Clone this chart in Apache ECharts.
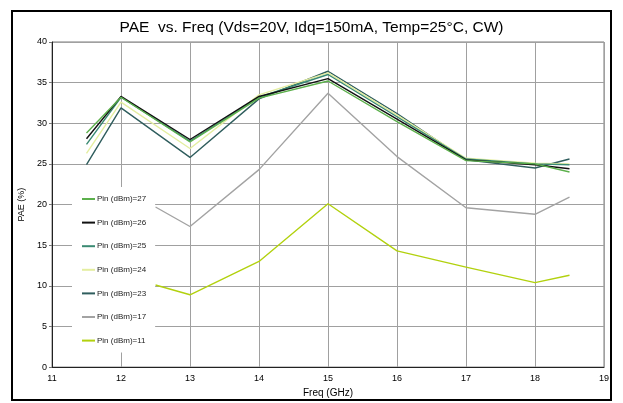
<!DOCTYPE html>
<html><head><meta charset="utf-8">
<script src="https://cdn.jsdelivr.net/npm/echarts@6/dist/echarts.min.js"></script>
<style>html,body{margin:0;padding:0;background:#fff}#c{width:623px;height:403px}</style>
</head><body><div id="c"></div>
<script>
const freqs = [11.5, 12, 13, 14, 15, 16, 17, 18, 18.5];
const pin27 = [28.8, 33.2, 27.7, 33.1, 35.2, 30.2, 25.4, 25.0, 24.0];
const pin26 = [28.1, 33.3, 28.0, 33.3, 35.5, 30.5, 25.5, 24.9, 24.4];
const pin25 = [27.4, 33.2, 27.8, 33.2, 36.0, 30.8, 25.6, 25.0, 24.9];
const pin24 = [26.3, 32.6, 26.9, 33.5, 36.2, 31.0, 25.7, 25.1, 25.0];
const pin23 = [24.9, 31.9, 25.8, 33.0, 36.4, 31.2, 25.5, 24.5, 25.6];
const freqsLow = [12.5, 13, 14, 15, 16, 17, 18, 18.5];
const pin17 = [19.7, 17.3, 24.3, 33.7, 25.9, 19.6, 18.8, 20.9];
const pin11 = [10.1, 8.9, 13.0, 20.1, 14.3, 12.3, 10.4, 11.3];
const names = ['Pin (dBm)=27','Pin (dBm)=26','Pin (dBm)=25','Pin (dBm)=24','Pin (dBm)=23','Pin (dBm)=17','Pin (dBm)=11'];
const colors = ['#5cb04c','#111111','#3a8a72','#e4eea0','#2f5d5d','#a3a3a3','#b2d10e'];

const zip = (xs, ys) => xs.map((x, i) => [x, ys[i]]);
const seriesData = [zip(freqs,pin27), zip(freqs,pin26), zip(freqs,pin25), zip(freqs,pin24), zip(freqs,pin23), zip(freqsLow,pin17), zip(freqsLow,pin11)];
const drawOrder = [5, 6, 4, 3, 2, 1, 0];

const chart = echarts.init(document.getElementById('c'), null, {renderer:'canvas'});
const font = 'Liberation Sans, Arial, sans-serif';
chart.setOption({
  animation: false,
  color: colors,
  title: {text: 'PAE  vs. Freq (Vds=20V, Idq=150mA, Temp=25°C, CW)', left: 'center', top: 15,
    textStyle: {fontFamily: font, fontSize: 15.5, fontWeight: 'normal', color: '#000'}},
  graphic: [{type: 'rect', shape: {x: 12, y: 11, width: 599, height: 389}, style: {fill: 'none', stroke: '#000', lineWidth: 2}, z: 100}],
  grid: {left: 52, top: 42, right: 19, bottom: 35, show: true, borderColor: '#7a7a7a', borderWidth: 1},
  legend: {orient: 'vertical', left: 72, top: 187, backgroundColor: '#fff', padding: [7, 9, 7, 10],
    itemGap: 13.6, itemWidth: 13, itemHeight: 2, icon: 'rect', itemStyle: {borderWidth: 0},
    textStyle: {fontFamily: font, fontSize: 8, color: '#222', lineHeight: 10, padding: [0,0,0,-3]},
    data: names},
  xAxis: {type: 'value', min: 11, max: 19, interval: 1, name: 'Freq (GHz)', nameLocation: 'middle', nameGap: 20,
    nameTextStyle: {fontFamily: font, fontSize: 10, color: '#000'},
    axisLine: {show: true, lineStyle: {color: '#222', width: 1}}, axisTick: {show: false},
    axisLabel: {fontFamily: font, fontSize: 9, color: '#000', margin: 7},
    splitLine: {show: true, lineStyle: {color: '#a0a0a0', width: 1}}},
  yAxis: {type: 'value', min: 0, max: 40, interval: 5, name: 'PAE (%)', nameLocation: 'middle', nameGap: 25,
    nameTextStyle: {fontFamily: font, fontSize: 9, color: '#000'},
    axisLine: {show: true, lineStyle: {color: '#222', width: 1}}, axisTick: {show: true, length: 3, lineStyle: {color: '#777'}},
    axisLabel: {fontFamily: font, fontSize: 9, color: '#000', margin: 5},
    splitLine: {show: true, lineStyle: {color: '#a0a0a0', width: 1}}},
  series: drawOrder.map(i => ({name: names[i], type: 'line', data: seriesData[i], showSymbol: false, symbol: 'none',
    lineStyle: {color: colors[i], width: 1.4}, itemStyle: {color: colors[i]}, z: 2}))
});
</script></body></html>
